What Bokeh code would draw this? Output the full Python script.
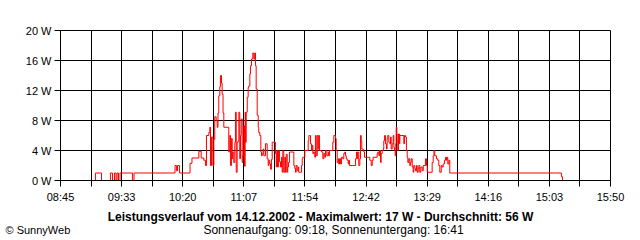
from bokeh.plotting import figure
from bokeh.layouts import column
from bokeh.models import FixedTicker, CustomJSTickFormatter, Range1d
from bokeh.core.properties import value
from bokeh.embed import file_html
from bokeh.resources import INLINE

# time axis in minutes since midnight
start_min = 525   # 08:45
end_min = 950     # 15:50
x_tick_labels = ["08:45", "09:33", "10:20", "11:07", "11:54",
                 "12:42", "13:29", "14:16", "15:03", "15:50"]
y_ticks = [0, 4, 8, 12, 16, 20]
y_tick_labels = ["0 W", "4 W", "8 W", "12 W", "16 W", "20 W"]

# minutes after 08:45 and power in W, row by row
offsets = [25.5, 27.0, 31.7, 38.6, 40.2, 41.7, 42.9, 43.7, 44.8, 46.0,
           55.6, 56.8, 88.5, 89.6, 90.4, 92.0, 100.1, 101.6, 106.9, 108.7,
           110.7, 112.0, 112.8, 114.6, 115.4, 115.9, 116.7, 117.7, 118.5, 119.2,
           120.3, 121.1, 121.7, 122.3, 123.1, 123.6, 124.4, 124.9, 125.6, 126.2,
           130.0, 130.8, 131.4, 132.1, 132.7, 133.1, 133.9, 134.7, 135.2, 135.8,
           136.5, 137.3, 137.8, 138.5, 139.1, 139.6, 140.4, 140.9, 141.6, 142.2,
           142.7, 143.0, 143.5, 144.3, 145.0, 145.5, 146.3, 146.8, 147.6, 148.6,
           149.4, 150.1, 150.7, 151.2, 152.0, 152.8, 153.2, 154.0, 154.8, 155.3,
           155.9, 156.6, 157.1, 158.4, 159.7, 160.5, 161.0, 161.7, 162.3, 163.0,
           163.6, 164.8, 166.1, 166.7, 167.1, 167.7, 168.5, 169.2, 170.0, 170.8,
           171.3, 171.8, 172.5, 173.3, 173.9, 174.4, 175.2, 175.6, 176.2, 177.0,
           179.5, 180.3, 181.0, 181.6, 182.1, 182.9, 183.7, 184.1, 185.5, 186.2,
           186.8, 187.2, 188.0, 188.8, 190.6, 191.4, 191.9, 192.4, 193.2, 194.0,
           194.5, 195.0, 195.7, 196.5, 197.0, 197.6, 198.4, 199.1, 199.6, 200.1,
           201.1, 201.7, 202.7, 203.5, 204.2, 204.8, 205.8, 206.9, 207.3, 207.9,
           209.9, 210.4, 211.2, 212.0, 212.5, 213.0, 213.8, 214.6, 215.0, 215.6,
           216.4, 217.1, 218.1, 218.9, 219.7, 220.2, 220.8, 221.5, 222.3, 222.8,
           223.3, 225.9, 228.0, 228.7, 229.3, 229.7, 230.5, 231.3, 231.8, 232.4,
           232.8, 233.9, 234.4, 234.9, 239.0, 240.1, 240.9, 241.6, 244.7, 245.2,
           246.0, 246.5, 247.3, 247.8, 248.6, 249.4, 249.8, 250.4, 251.1, 251.9,
           252.4, 252.9, 253.7, 254.5, 255.0, 255.5, 256.3, 257.1, 257.6, 258.1,
           258.6, 259.1, 259.4, 259.9, 260.2, 260.6, 261.2, 262.0, 262.2, 265.3,
           265.8, 266.6, 267.3, 267.9, 268.4, 269.1, 269.9, 270.5, 271.0, 271.8,
           272.5, 273.0, 273.8, 274.3, 275.1, 275.6, 276.4, 276.9, 277.6, 278.4,
           279.5, 280.3, 282.0, 282.8, 283.4, 287.2, 288.0, 288.6, 289.2, 290.5,
           291.5, 292.3, 293.1, 294.2, 294.9, 295.7, 296.7, 297.5, 298.3, 298.8,
           299.3, 300.1, 300.8, 386.0, 387.1, 387.9]
watts = [0, 1, 0, 1, 0, 1, 0, 1, 0, 1,
         0, 1, 2, 1.3, 2, 1, 2.3, 3.0, 3.9, 3.0,
         2.7, 2.0, 6.0, 6.4, 7.1, 2.0, 5.8, 2.0, 5.5, 8.5,
         8.0, 7.1, 9.0, 11.3, 12.5, 14.0, 13.0, 11.5, 9.0, 7.1,
         3.8, 6.0, 2.0, 5.6, 2.9, 3.8, 2.4, 5.1, 9.1, 1.1,
         5.1, 5.3, 9.1, 2.9, 6.0, 8.2, 2.4, 3.3, 7.3, 1.9,
         9.1, 5.1, 9.1, 11.1, 12.4, 12.6, 14.2, 15.3, 16.2, 17.0,
         16.2, 17.0, 15.3, 12.2, 8.7, 7.1, 6.4, 6.0, 3.8, 3.3,
         3.6, 4.2, 3.3, 4.9, 2.9, 2.0, 2.7, 2.2, 1.5, 2.8,
         5.1, 5.1, 3.6, 1.8, 4.0, 1.8, 4.0, 2.5, 1.8, 3.1,
         1.1, 4.0, 1.1, 3.1, 1.1, 3.5, 1.1, 1.8, 2.4, 3.8,
         3.8, 2.0, 1.6, 1.1, 2.0, 1.3, 1.8, 1.1, 1.1, 2.0,
         2.9, 3.1, 3.1, 4.0, 4.0, 5.3, 6.0, 6.0, 4.9, 4.0,
         4.7, 3.6, 3.8, 3.1, 6.0, 3.3, 6.0, 4.2, 6.0, 4.0,
         4.0, 3.8, 2.9, 3.6, 3.1, 4.0, 3.3, 3.8, 3.3, 4.0,
         4.0, 5.1, 6.0, 6.0, 5.6, 4.0, 2.4, 2.9, 2.2, 2.9,
         2.2, 3.1, 2.9, 3.6, 3.8, 3.3, 2.9, 2.7, 2.2, 2.7,
         2.0, 2.0, 2.9, 3.8, 2.9, 3.8, 2.0, 2.9, 6.0, 5.3,
         4.2, 4.0, 3.8, 3.1, 2.7, 2.0, 2.7, 3.1, 3.6, 3.8,
         3.3, 4.0, 2.4, 3.6, 4.0, 4.2, 5.3, 6.0, 4.9, 4.2,
         5.6, 6.0, 5.1, 4.9, 5.8, 4.2, 4.9, 6.0, 4.4, 4.0,
         3.3, 4.9, 7.1, 6.2, 5.3, 4.0, 6.2, 4.9, 6.0, 4.9,
         6.0, 5.8, 4.0, 3.1, 2.4, 2.9, 2.0, 2.4, 2.9, 1.8,
         1.1, 2.0, 1.6, 1.3, 2.0, 1.1, 1.6, 2.0, 1.1, 1.8,
         1.3, 2.0, 2.9, 2.0, 1.1, 2.4, 3.3, 4.0, 3.3, 2.9,
         2.7, 2.0, 1.1, 2.0, 1.8, 2.2, 2.7, 3.1, 2.7, 3.1,
         2.2, 2.7, 1.0, 1.0, 0.5, 0.0]
assert len(offsets) == len(watts)

title_text = "Leistungsverlauf vom 14.12.2002 - Maximalwert: 17 W - Durchschnitt: 56 W"
subtitle_text = "Sonnenaufgang: 09:18, Sonnenuntergang: 16:41"
credit_text = "\u00a9 SunnyWeb"

FONT = "Liberation Sans"

times = [start_min + o for o in offsets]

p = figure(width=640, height=205, output_backend="svg", toolbar_location=None,
           x_range=Range1d(start_min, end_min), y_range=Range1d(0, 20),
           min_border_left=60, min_border_right=30, min_border_top=30,
           min_border_bottom=25)
p.background_fill_color = "white"
p.border_fill_color = "white"
p.outline_line_color = "black"
p.outline_line_width = 1

p.step(times, watts, mode="after", line_color="#ff0000", line_width=1)

step = (end_min - start_min) / (len(x_tick_labels) - 1)
major = [start_min + i * step for i in range(len(x_tick_labels))]
minor = [start_min + (i + 0.5) * step for i in range(len(x_tick_labels) - 1)]
xt = FixedTicker(ticks=major, minor_ticks=minor)
p.xaxis.ticker = xt
p.xgrid.ticker = xt
p.xaxis.formatter = CustomJSTickFormatter(
    args=dict(labels=x_tick_labels, start=start_min, step=step),
    code="return labels[Math.round((tick - start) / step)];")

yt = FixedTicker(ticks=y_ticks, minor_ticks=[])
p.yaxis.ticker = yt
p.ygrid.ticker = yt
p.yaxis.major_label_overrides = {v: s for v, s in zip(y_ticks, y_tick_labels)}

for g in (p.xgrid, p.ygrid):
    g.grid_line_color = "black"
    g.grid_line_width = 1
p.xgrid.minor_grid_line_color = "black"
p.xgrid.minor_grid_line_width = 1

for ax in (p.xaxis, p.yaxis):
    ax.axis_line_color = "black"
    ax.major_tick_line_color = "black"
    ax.major_tick_in = 0
    ax.major_tick_out = 6
    ax.major_label_text_font = FONT
    ax.major_label_text_font_size = "11px"
    ax.major_label_text_color = "black"
p.xaxis.minor_tick_line_color = "black"
p.xaxis.minor_tick_in = 0
p.xaxis.minor_tick_out = 6
p.yaxis.minor_tick_line_color = None
p.xaxis.major_label_standoff = 4
p.yaxis.major_label_standoff = 3

# caption strip below the chart (pixel-like coordinates, y measured upward)
cap = figure(width=640, height=35, output_backend="svg", toolbar_location=None,
             x_range=Range1d(0, 640), y_range=Range1d(0, 35),
             min_border=0, min_border_left=0, min_border_right=0,
             min_border_top=0, min_border_bottom=0)
cap.frame_align = False
cap.axis.visible = False
cap.grid.visible = False
cap.outline_line_color = None
cap.background_fill_color = "white"
cap.border_fill_color = "white"

cap.text(x=[320], y=[24], text=[title_text], text_align="center",
         text_baseline="middle", text_font=value(FONT), text_font_size="12px",
         text_font_style="bold", text_color="black")
cap.text(x=[333], y=[11], text=[subtitle_text], text_align="center",
         text_baseline="middle", text_font=value(FONT), text_font_size="12px",
         text_color="black")
cap.text(x=[5], y=[11], text=[credit_text], text_align="left",
         text_baseline="middle", text_font=value(FONT), text_font_size="11px",
         text_color="black")

layout = column(p, cap, spacing=0)
open("out.html", "w").write(file_html(layout, INLINE))
